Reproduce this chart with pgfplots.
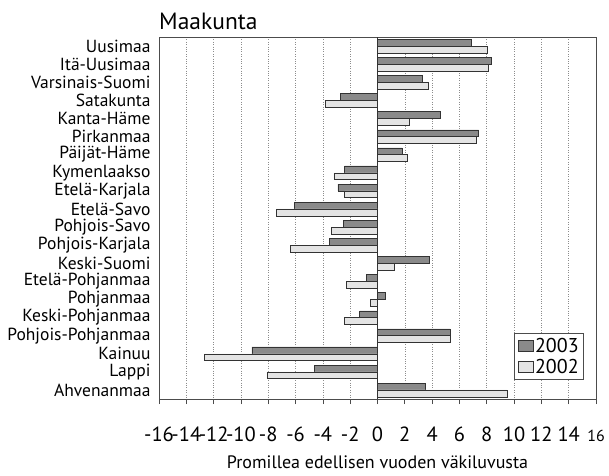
\documentclass[border=0pt]{standalone}
\usepackage{pgfplots}
\pgfplotsset{compat=1.18}
\usepackage{pgfplotstable}
\usepackage{fontspec}
\setmainfont{PT Sans}
\pgfplotstableread{
idx y2003 y2002
1 6.9 8.0
2 8.3 8.1
3 3.3 3.7
4 -2.7 -3.8
5 4.6 2.3
6 7.4 7.2
7 1.8 2.2
8 -2.4 -3.2
9 -2.9 -2.4
10 -6.1 -7.4
11 -2.5 -3.4
12 -3.5 -6.4
13 3.8 1.2
14 -0.8 -2.3
15 0.6 -0.5
16 -1.3 -2.4
17 5.3 5.3
18 -9.2 -12.7
19 -4.6 -8.1
20 3.5 9.5
}\datatable
\definecolor{darkbar}{HTML}{8A8A8A}
\definecolor{lightbar}{HTML}{E4E4E4}
\begin{document}
\begin{tikzpicture}
\begin{axis}[
  at={(0,0)}, anchor=south west,
  scale only axis, width=437pt, height=362pt,
  xbar, bar width=6.8pt,
  clip=false,
  xmin=-16, xmax=16,
  xtick={-16,-14,...,16},
  xticklabels={-16,-14,-12,-10,-8,-6,-4,-2,0,2,4,6,8,10,12,14,{\fontsize{16}{16}\selectfont 16}},
  ymin=0.5, ymax=20.5, y dir=reverse,
  ytick={1,...,20},
  yticklabels={Uusimaa,Itä-Uusimaa,Varsinais-Suomi,Satakunta,Kanta-Häme,Pirkanmaa,Päijät-Häme,Kymenlaakso,Etelä-Karjala,Etelä-Savo,Pohjois-Savo,Pohjois-Karjala,Keski-Suomi,Etelä-Pohjanmaa,Pohjanmaa,Keski-Pohjanmaa,Pohjois-Pohjanmaa,Kainuu,Lappi,Ahvenanmaa},
  yticklabel style={font=\fontsize{17.5}{17.5}\selectfont},
  xticklabel style={font=\fontsize{20.5}{20.5}\selectfont, anchor=base, yshift=-37pt},
  ytick style={draw=none},
  xtick pos=left, tick align=outside,
  major tick length=5pt,
  xtick style={black!70, line width=0.7pt},
  xmajorgrids, major grid style={black!45, dotted, line width=0.6pt},
  extra x ticks={0}, extra x tick labels={},
  extra x tick style={grid=major, major grid style={black!80, solid, line width=0.8pt}, major tick length=0pt},
  axis line style={black!70, line width=0.7pt},
  legend style={at={(0.9725,0.0525)}, anchor=south east, draw=black!70, line width=0.6pt,
    font=\fontsize{20}{22}\selectfont, inner sep=3pt, row sep=1pt},
  legend cell align=left,
  legend image code/.code={\draw[#1, line width=0.5pt] (0pt,-5.5pt) rectangle (15pt,5.5pt);},
]
\addplot[fill=darkbar, draw=black!80, line width=0.5pt, bar shift=3.4pt] table[x=y2003, y=idx] {\datatable};
\addplot[fill=lightbar, draw=black!80, line width=0.5pt, bar shift=-3.4pt] table[x=y2002, y=idx] {\datatable};
\legend{2003,2002}
\node[anchor=base west, font=\fontsize{23.5}{23.5}\selectfont, inner sep=0pt] at (rel axis cs:0,0) [yshift=370pt] {Maakunta};
\node[anchor=base, font=\fontsize{18}{18}\selectfont, inner sep=0pt] at (rel axis cs:0.5,0) [yshift=-69pt] {Promillea edellisen vuoden väkiluvusta};
\end{axis}
\pgfresetboundingbox
\path[use as bounding box] (-159pt,-76pt) rectangle (450pt,399pt);
\end{tikzpicture}
\end{document}
